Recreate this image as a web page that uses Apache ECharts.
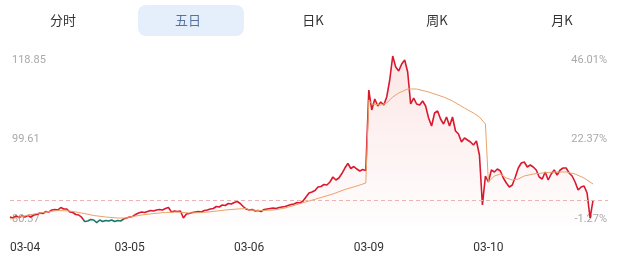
<!DOCTYPE html>
<html>
<head>
<meta charset="utf-8">
<script src="https://cdn.jsdelivr.net/npm/echarts@6/dist/echarts.min.js"></script>
<style>
html,body{margin:0;padding:0;background:#fff;}
#chart{width:640px;height:264px;}
</style>
</head>
<body>
<div id="chart"></div>
<script>
// ---- data ----
const tabs = ['分时', '五日', '日K', '周K', '月K'];
const selectedTab = 1;
const dates = ['03-04', '03-05', '03-06', '03-09', '03-10'];
const pointsPerDay = 40;
const priceTicks = [80.37, 99.61, 118.85];
const priceTickLabels = ['80.37', '99.61', '118.85'];
const pctTickLabels = ['-1.27%', '22.37%', '46.01%'];
const refLine = 84.80;
const downThreshold = 80.45;

const priceDay1 = [80.86, 80.61, 81.10, 80.74, 81.10, 80.86, 81.22, 80.86, 81.34, 81.46, 81.82, 81.70, 82.19, 82.07, 82.55, 82.67, 82.55, 83.16, 82.79, 82.79, 82.07, 81.95, 81.46, 81.34, 80.74, 79.77, 79.89, 80.25, 80.13, 79.52, 80.13, 79.77, 80.01, 79.89, 80.13, 79.77, 80.01, 79.89, 80.37, 80.61];
const priceDay2 = [80.86, 80.98, 81.46, 81.82, 82.07, 81.95, 82.19, 82.43, 82.31, 82.55, 82.67, 82.55, 82.91, 83.16, 82.07, 82.31, 82.19, 82.31, 80.61, 81.58, 81.70, 81.95, 82.07, 82.19, 82.07, 82.43, 82.55, 82.79, 82.91, 83.40, 83.28, 83.76, 83.64, 84.12, 84.00, 84.37, 84.61, 84.12, 83.40, 82.79];
const priceDay3 = [82.55, 82.67, 82.31, 82.43, 82.19, 82.67, 82.79, 82.91, 83.03, 82.91, 83.16, 83.28, 83.40, 83.64, 83.88, 84.00, 84.37, 84.24, 84.73, 85.70, 86.66, 86.91, 87.27, 88.12, 88.24, 88.72, 88.60, 89.33, 90.54, 89.81, 90.29, 91.38, 92.71, 93.80, 92.59, 93.08, 92.47, 91.99, 92.35, 92.11];
const priceDay4 = [111.59, 106.75, 109.41, 107.72, 108.69, 107.96, 109.90, 114.01, 119.82, 117.16, 116.19, 117.88, 118.85, 115.95, 108.20, 109.65, 108.20, 107.96, 108.93, 107.72, 104.81, 102.88, 106.02, 106.51, 104.57, 103.36, 105.06, 102.88, 105.06, 101.67, 100.94, 99.01, 99.97, 99.49, 99.01, 98.28, 99.25, 95.86, 83.76, 90.78];
const priceDay5 = [89.33, 92.23, 91.75, 92.47, 91.99, 90.29, 89.08, 88.12, 88.60, 90.54, 92.71, 93.92, 94.17, 92.96, 93.44, 92.96, 92.23, 90.54, 90.05, 91.75, 89.81, 91.26, 92.23, 91.02, 92.23, 92.71, 92.71, 91.50, 90.78, 89.33, 87.39, 88.12, 88.36, 86.66, 80.61, 84.97];

// intraday average: [minute index within the 5-day axis, value]
const avgDay1 = [[0, 80.37], [4, 80.98], [8, 81.58], [12, 82.07], [16, 82.43], [20, 82.31], [24, 81.82], [28, 81.22], [32, 80.86], [36, 80.61], [39, 80.61]];
const avgDay2 = [[40, 80.86], [44, 81.34], [48, 81.70], [52, 81.95], [56, 82.07], [60, 81.82], [64, 81.95], [68, 82.19], [72, 82.55], [76, 82.79], [79, 82.91]];
const avgDay3 = [[80, 82.55], [84, 82.43], [88, 82.55], [92, 83.03], [96, 83.88], [100, 84.73], [104, 85.57], [108, 86.42], [112, 87.51], [116, 88.36], [119, 89.08]];
const avgDay4 = [[120, 109.17], [121, 108.20], [124, 107.96], [126, 108.44], [128, 109.90], [130, 110.86], [133, 111.83], [136, 111.83], [140, 111.11], [145, 109.90], [148, 108.93], [152, 107.23], [155, 106.02], [157, 105.06], [159, 103.36]];
const avgDay5 = [[160, 89.33], [162, 90.78], [164, 91.26], [166, 90.29], [168, 89.81], [170, 90.05], [172, 90.78], [175, 91.26], [178, 91.50], [182, 91.75], [186, 91.75], [189, 91.26], [192, 90.29], [195, 88.84]];

// ---- build ----
const priceDays = [priceDay1, priceDay2, priceDay3, priceDay4, priceDay5];
const priceData = [];
priceDays.forEach((day, d) => day.forEach((v, i) => priceData.push([d * pointsPerDay + i, v])));
const avgData = [].concat(avgDay1, avgDay2, avgDay3, avgDay4, avgDay5);

const UP = '#d8192e', DOWN = '#18786a';
const chart = echarts.init(document.getElementById('chart'), null, {renderer: 'canvas'});

const tabCenters = [63, 188, 313, 437, 562];
const graphics = [{
  type: 'rect', left: 138, top: 5, shape: {width: 106, height: 31, r: 8},
  style: {fill: '#e5effc'}, silent: true
}];
tabs.forEach((t, i) => {
  graphics.push({
    type: 'text', x: tabCenters[i], y: 20,
    style: {
      text: t, align: 'center', verticalAlign: 'middle',
      fill: i === selectedTab ? '#56739f' : '#333333',
      font: '13px "Noto Sans CJK SC", sans-serif'
    }, silent: true
  });
});

const yCommon = {
  type: 'value', min: 78.68, max: 121.27,
  axisLine: {show: false}, axisTick: {show: false}, splitLine: {show: false}
};

chart.setOption({
  animation: false,
  backgroundColor: '#ffffff',
  graphic: graphics,
  grid: {left: 10, right: 32, top: 50, bottom: 38, containLabel: false},
  xAxis: {
    type: 'value', min: 0, max: pointsPerDay * dates.length,
    axisLine: {show: false}, axisTick: {show: false}, splitLine: {show: false},
    axisLabel: {
      customValues: dates.map((_, i) => i * pointsPerDay),
      formatter: v => dates[Math.round(v / pointsPerDay)] || '',
      color: '#333333', fontSize: 12, margin: 16,
      fontFamily: 'Roboto, "Noto Sans", sans-serif',
      alignMinLabel: 'left'
    }
  },
  yAxis: [
    Object.assign({}, yCommon, {
      position: 'left',
      axisLabel: {
        inside: true, margin: 2, customValues: priceTicks,
        formatter: v => priceTickLabels[priceTicks.indexOf(v)] || '',
        color: '#a9a9a9', fontSize: 11, fontFamily: 'Roboto, "Noto Sans", sans-serif'
      }
    }),
    Object.assign({}, yCommon, {
      position: 'right',
      axisLabel: {
        inside: true, margin: 1, customValues: priceTicks,
        formatter: v => pctTickLabels[priceTicks.indexOf(v)] || '',
        color: '#a9a9a9', fontSize: 11, fontFamily: 'Roboto, "Noto Sans", sans-serif'
      }
    })
  ],
  series: [
    {
      type: 'line', data: priceData, showSymbol: false, symbol: 'none',
      lineStyle: {width: 1.6, color: UP},
      itemStyle: {color: UP},
      areaStyle: {
        origin: 'start',
        color: new echarts.graphic.LinearGradient(0, 0, 0, 1, [
          {offset: 0, color: 'rgba(236,110,110,0.24)'},
          {offset: 1, color: 'rgba(236,110,110,0.02)'}
        ])
      },
      markLine: {
        silent: true, symbol: 'none', label: {show: false},
        lineStyle: {type: [4, 3], color: '#ecb3b3', width: 1},
        data: [{yAxis: refLine}]
      },
      z: 3
    },
    {
      type: 'line', data: avgData, showSymbol: false, symbol: 'none',
      lineStyle: {width: 1, color: '#e9a36a'},
      itemStyle: {color: '#e9a36a'},
      z: 4
    }
  ]
});

// colour the price line green below the threshold, using the axis scale
const yThr = chart.convertToPixel({yAxisIndex: 0}, downThreshold);
const yTop = chart.convertToPixel({yAxisIndex: 0}, 121.27);
const yBot = chart.convertToPixel({yAxisIndex: 0}, 78.68);
const f = (yThr - yTop) / (yBot - yTop);
chart.setOption({
  series: [{
    lineStyle: {
      color: new echarts.graphic.LinearGradient(0, yTop, 0, yBot, [
        {offset: 0, color: UP}, {offset: f, color: UP},
        {offset: f, color: DOWN}, {offset: 1, color: DOWN}
      ], true)
    }
  }]
});
</script>
</body>
</html>
